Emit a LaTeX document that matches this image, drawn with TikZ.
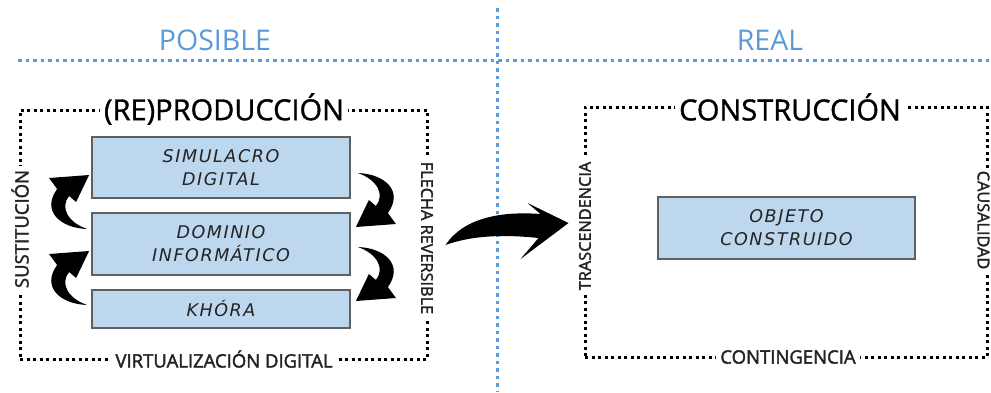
\documentclass[tikz,border=0pt]{standalone}
\usepackage{fontspec}
\setmainfont{Open Sans}
\newfontfamily\labelfont{Open Sans}[FakeBold=2]
\newfontfamily\titlefont{Open Sans}[FakeBold=1.2]
\newfontfamily\boxfont{DejaVu Sans}[LetterSpace=9]
\definecolor{skyline}{RGB}{91,155,213}
\definecolor{boxfill}{RGB}{189,215,238}
\definecolor{boxedge}{RGB}{95,95,95}
\definecolor{inkgray}{RGB}{35,35,35}

\begin{document}
\begin{tikzpicture}[x=1pt,y=-1pt,
  guide/.style={draw=skyline, line width=3pt, dash pattern=on 3.5pt off 4pt},
  frame/.style={draw=black, line width=3pt, dash pattern=on 3pt off 3.5pt, inner sep=0pt},
  zone/.style={text=skyline, inner sep=0pt, font=\fontsize{28.5}{32}\selectfont},
  heading/.style={fill=white, inner sep=4pt, font=\titlefont\fontsize{29}{32}\selectfont},
  side/.style={fill=white, inner sep=4pt, text=inkgray, font=\labelfont\fontsize{18.5}{20}\selectfont},
  sidev/.style={side, font=\labelfont\fontsize{16.3}{18}\selectfont},
  concept/.style={draw=boxedge, line width=1.8pt, fill=boxfill, align=center, text=inkgray,
    inner sep=0pt, font=\boxfont\itshape\fontsize{17.5}{23}\selectfont},
  curl/.pic={
    \fill (0,0) .. controls (-27,-1) and (-46,-18) .. (-30,-40) -- (-38,-51)
      -- (2,-54) -- (-11,-27) -- (-18,-33) .. controls (-27,-22) and (-20,-7) .. (0,0) -- cycle;
  }
]
\useasboundingbox (0,0) rectangle (991,392);

% guide lines splitting the two zones
\draw[guide] (18,60) -- (991,60);
\draw[guide] (497,8) -- (497,392);
\node[zone] (posible) at (215,40) {POSIBLE};
\node[zone] (real) at (770,40) {REAL};

% left frame
\node[frame, minimum width=407pt, minimum height=249pt] (repro) at (223.5,234.5) {};
\node[heading] (reproT) at (224,109) {(RE)PRODUCCIÓN};
\node[side] (reproB) at (224,359) {VIRTUALIZACIÓN DIGITAL};
\node[side, rotate=90] (reproL) at (20,229) {SUSTITUCIÓN};
\node[sidev, rotate=-90] (reproR) at (427,238) {FLECHA REVERSIBLE};

% right frame
\node[frame, minimum width=402pt, minimum height=250pt] (constr) at (786,232) {};
\node[heading] (constrT) at (790,107) {CONSTRUCCIÓN};
\node[side] (constrB) at (788,357) {CONTINGENCIA};
\node[sidev, rotate=90] (constrL) at (585,226) {TRASCENDENCIA};
\node[sidev, rotate=-90, inner sep=3pt] (constrR) at (983.5,220) {CAUSALIDAD};

% concept boxes
\node[concept, minimum width=258pt, minimum height=61pt] (sim) at (221,167.5) {SIMULACRO\\DIGITAL};
\node[concept, minimum width=258pt, minimum height=62pt] (dom) at (221,244) {DOMINIO\\INFORMÁTICO};
\node[concept, minimum width=258pt, minimum height=38pt] (khora) at (221,309) {KHÓRA};
\node[concept, minimum width=257pt, minimum height=62pt] (obj) at (786.5,228) {OBJETO\\CONSTRUIDO};

% curled arrows between the boxes
\pic at ([shift={(-4,-15)}]dom.west) {curl};
\pic at ([shift={(-4,-4)}]khora.west) {curl};
\pic[rotate=180] at ([shift={(7,5.5)}]sim.east) {curl};
\pic[rotate=180] at ([shift={(7,3)}]dom.east) {curl};

% main arrow from one frame to the other
\begin{scope}[shift={([shift={(17,10.5)}]repro.east)}]
  \fill (0,0) .. controls (18,-27) and (55,-34) .. (95,-31) -- (82,-42) -- (123,-22)
    -- (75,14) -- (93,-7) .. controls (55,-11) and (25,-9) .. (0,0) -- cycle;
\end{scope}
\end{tikzpicture}
\end{document}
